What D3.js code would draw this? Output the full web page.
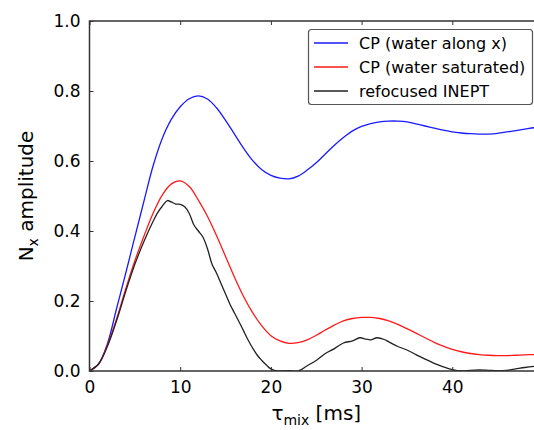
<!DOCTYPE html>
<html>
<head>
<meta charset="utf-8">
<script src="https://cdn.jsdelivr.net/npm/d3@7"></script>
<style>
  body { margin: 0; background: #fff; }
  svg text { font-family: "DejaVu Sans", sans-serif; fill: #000; }
</style>
</head>
<body>
<svg id="chart" width="534" height="430"></svg>
<script>
// mixing times (ms) for the two CP curves
const tau = [0, 1, 2, 3, 4, 5, 6, 7, 8, 9, 10, 11, 12, 13, 14, 15, 16, 17, 18, 19, 20,
  21, 22, 23, 24, 25, 26, 27, 28, 29, 30, 31, 32, 33, 34, 35, 36, 37, 38, 39, 40,
  41, 42, 43, 44, 45, 46, 47, 48, 49, 50];

const cpWaterX = [0, 0.02, 0.08, 0.18, 0.28, 0.383, 0.485, 0.585, 0.663, 0.718, 0.755,
  0.778, 0.786, 0.777, 0.752, 0.716, 0.676, 0.636, 0.601, 0.575, 0.559,
  0.551, 0.549, 0.557, 0.574, 0.595, 0.62, 0.645, 0.667, 0.686, 0.699,
  0.707, 0.712, 0.714, 0.714, 0.712, 0.706, 0.7, 0.694, 0.688, 0.683,
  0.68, 0.678, 0.677, 0.677, 0.679, 0.683, 0.687, 0.691, 0.695, 0.698];

const cpWaterSat = [0, 0.02, 0.075, 0.15, 0.235, 0.315, 0.385, 0.45, 0.502, 0.534, 0.543,
  0.527, 0.488, 0.442, 0.387, 0.327, 0.267, 0.212, 0.166, 0.129, 0.101,
  0.086, 0.079, 0.081, 0.089, 0.102, 0.117, 0.131, 0.143, 0.15, 0.153,
  0.153, 0.15, 0.143, 0.133, 0.121, 0.108, 0.095, 0.082, 0.071, 0.062,
  0.055, 0.05, 0.047, 0.045, 0.044, 0.044, 0.045, 0.046, 0.047, 0.048];

// refocused INEPT is noisier, sampled more finely
const tauInept = [0, 1, 2, 3, 4, 5, 6, 7, 7.5, 8, 8.6, 9, 9.5, 10, 10.5, 11, 11.5, 12, 12.5,
  13, 13.5, 14, 14.5, 15, 15.5, 16, 16.5, 17, 17.5, 18, 18.5, 19, 19.5, 20, 20.5,
  21, 22, 23, 24, 25, 26, 27, 28, 29, 29.8, 30.5, 31, 31.7, 32.5, 33, 34, 35, 36,
  37, 38, 39, 40, 41, 42, 43, 44, 45, 46, 47, 48, 49, 50];

const inept = [0, 0.02, 0.072, 0.145, 0.228, 0.305, 0.37, 0.427, 0.452, 0.47, 0.487, 0.483,
  0.477, 0.476, 0.469, 0.45, 0.418, 0.4, 0.383, 0.35, 0.306, 0.28, 0.25, 0.22, 0.19,
  0.165, 0.14, 0.114, 0.088, 0.065, 0.045, 0.03, 0.017, 0.006, 0.001,
  0, 0.001, 0, 0.015, 0.03, 0.05, 0.064, 0.08, 0.086, 0.095, 0.091, 0.089, 0.095, 0.09,
  0.083, 0.07, 0.06, 0.047, 0.034, 0.022, 0.012, 0.004, 0, 0.002, 0.003, 0.002, 0.001,
  0.002, 0.006, 0.01, 0.013, 0.015];

const seriesNames = ['CP (water along x)', 'CP (water saturated)', 'refocused INEPT'];
const seriesColors = ['#1a1aff', '#ff1a1a', '#222'];
const xTicks = [0, 10, 20, 30, 40];
const yTicks = [0, 0.2, 0.4, 0.6, 0.8, 1.0];

const svg = d3.select('#chart');
const m = { left: 89.5, top: 21, bottom: 371, right: 543 };

const x = d3.scaleLinear().domain([0, 50]).range([m.left, m.right]);
const y = d3.scaleLinear().domain([0, 1]).range([m.bottom, m.top]);

const plot = svg.append('g');
plot.append('clipPath').attr('id', 'clip')
  .append('rect').attr('x', m.left).attr('y', m.top)
  .attr('width', m.right - m.left).attr('height', m.bottom - m.top);

const series = [
  { xs: tau, ys: cpWaterX },
  { xs: tau, ys: cpWaterSat },
  { xs: tauInept, ys: inept }
];

const line = d3.line()
  .x(d => x(d[0]))
  .y(d => y(d[1]))
  .curve(d3.curveCatmullRom);

series.forEach((s, i) => {
  plot.append('path')
    .attr('clip-path', 'url(#clip)')
    .attr('d', line(s.xs.map((v, j) => [v, s.ys[j]])))
    .attr('fill', 'none')
    .attr('stroke', seriesColors[i])
    .attr('stroke-width', 1.3);
});

// axes, matplotlib classic style: ticks pointing inward
const fmt = d3.format('.1f');
const axisStyle = g => {
  g.select('.domain').remove();
  g.selectAll('line').attr('stroke', '#333').attr('stroke-width', 1);
  g.selectAll('text').style('font-size', '17px').style('font-family', '"DejaVu Sans", sans-serif');
};

svg.append('g')
  .attr('transform', `translate(0,${m.bottom})`)
  .call(d3.axisBottom(x).tickValues(xTicks).tickSizeInner(-4).tickSizeOuter(0).tickPadding(10))
  .call(axisStyle);

svg.append('g')
  .attr('transform', `translate(0,${m.top})`)
  .call(d3.axisTop(x).tickValues(xTicks).tickSizeInner(-4).tickSizeOuter(0).tickFormat(''))
  .call(axisStyle);

svg.append('g')
  .attr('transform', `translate(${m.left},0)`)
  .call(d3.axisLeft(y).tickValues(yTicks).tickFormat(fmt).tickSizeInner(-4).tickSizeOuter(0).tickPadding(9))
  .call(axisStyle);

// spines
svg.append('path')
  .attr('d', `M${m.right},${m.top}H${m.left}V${m.bottom}H${m.right}`)
  .attr('fill', 'none')
  .attr('stroke', '#333')
  .attr('stroke-width', 1.5);

// axis labels
const ylab = svg.append('text')
  .attr('transform', `translate(33,${(m.top + m.bottom) / 2}) rotate(-90)`)
  .attr('text-anchor', 'middle')
  .style('font-size', '20px');
ylab.append('tspan').text('N');
ylab.append('tspan').attr('dy', 5).style('font-size', '14px').text('x');
ylab.append('tspan').attr('dy', -5).text(' amplitude');

const xlab = svg.append('text')
  .attr('x', (m.left + m.right) / 2)
  .attr('y', 420)
  .attr('text-anchor', 'middle')
  .style('font-size', '20px');
xlab.append('tspan').text('τ');
xlab.append('tspan').attr('dy', 5).style('font-size', '14px').text('mix');
xlab.append('tspan').attr('dy', -5).text(' [ms]');

// legend
const legend = svg.append('g');
legend.append('rect')
  .attr('x', 308.5).attr('y', 29.5)
  .attr('width', 224).attr('height', 75)
  .attr('rx', 3)
  .attr('fill', '#fff')
  .attr('stroke', '#555')
  .attr('stroke-width', 1.2);

const rows = legend.selectAll('g.row')
  .data(seriesNames)
  .enter()
  .append('g')
  .classed('row', true)
  .attr('transform', (d, i) => `translate(0,${43 + i * 24})`);
rows.append('line')
  .attr('x1', 314).attr('x2', 348)
  .attr('stroke', (d, i) => seriesColors[i])
  .attr('stroke-width', 1.3);
rows.append('text')
  .attr('x', 359)
  .attr('dy', '0.35em')
  .style('font-size', '16px')
  .text(d => d);
</script>
</body>
</html>
